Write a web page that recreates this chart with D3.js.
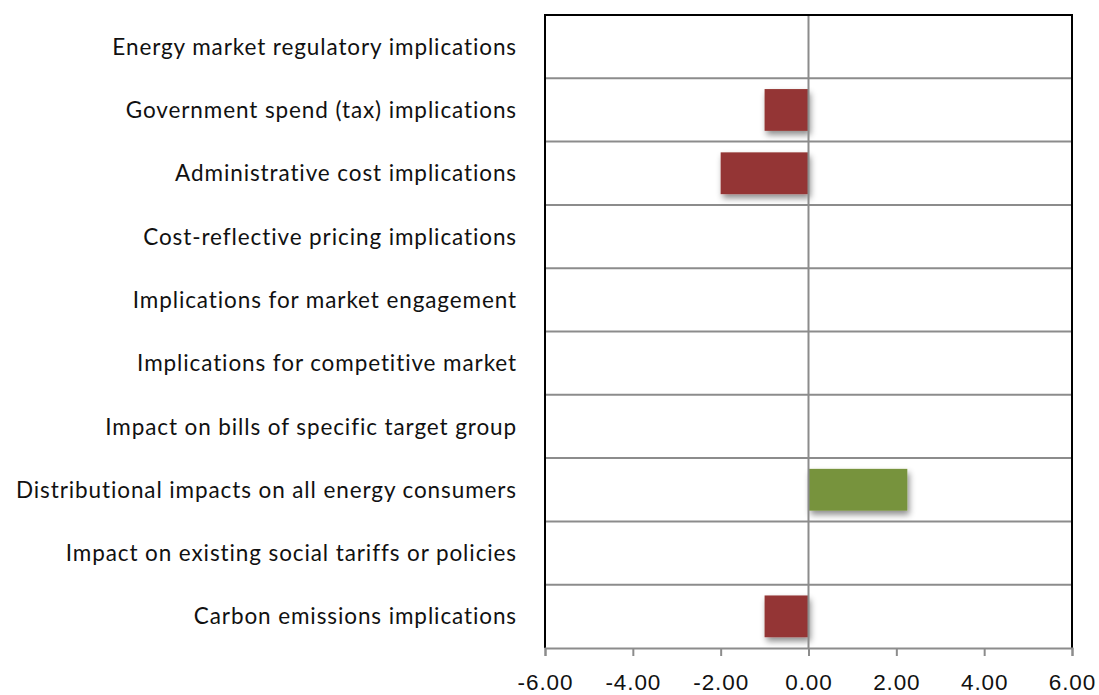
<!DOCTYPE html>
<html lang="en">
<head>
  <meta charset="UTF-8">
  <title>Implications chart (D3.js)</title>
  <script src="https://d3js.org/d3.v7.min.js"></script>
  <style>
    body {
      background-color: #fff;
      margin: 0;
      font-family: 'Lato', 'Open Sans', Arial, sans-serif;
    }
    svg {
      display: block;
    }
    .cat-label, .tick-label {
      fill: #111;
      font-size: 22.5px;
      letter-spacing: 0.9px;
      font-variant-ligatures: none;
    }
    .grid {
      stroke: #8c8c8c;
      stroke-width: 2;
    }
  </style>
</head>
<body>
<svg id="chart" width="1099" height="695"></svg>

<script>
const categories = [
  "Energy market regulatory implications",
  "Government spend (tax) implications",
  "Administrative cost implications",
  "Cost-reflective pricing implications",
  "Implications for market engagement",
  "Implications for competitive market",
  "Impact on bills of specific target group",
  "Distributional impacts on all energy consumers",
  "Impact on existing social tariffs or policies",
  "Carbon emissions implications"
];
const values = [0, -1, -2, 0, 0, 0, 0, 2.25, 0, -1];
const xTicks = [-6, -4, -2, 0, 2, 4, 6];

const margin = {top: 15, right: 27, bottom: 47, left: 545};

const svg = d3.select("#chart"),
      width = +svg.attr("width") - margin.left - margin.right,
      height = +svg.attr("height") - margin.top - margin.bottom;

// soft drop shadow under the bars
const defs = svg.append("defs");
defs.append("filter")
    .attr("id", "shadow")
    .attr("x", "-20%").attr("y", "-20%")
    .attr("width", "150%").attr("height", "160%")
  .append("feDropShadow")
    .attr("dx", 2).attr("dy", 4)
    .attr("stdDeviation", 3)
    .attr("flood-color", "#000")
    .attr("flood-opacity", 0.45);

const g = svg.append("g").attr("transform", `translate(${margin.left},${margin.top})`);

const x = d3.scaleLinear().domain([-6, 6]).range([0, width]);
const rows = d3.scaleBand().domain(categories).range([0, height]);
const bars = d3.scaleBand().domain(categories).range([0, height]).paddingInner(0.34).paddingOuter(0.17);

// horizontal row separators
g.selectAll(".row-line")
  .data(categories.slice(1))
  .join("line")
    .attr("class", "grid")
    .attr("x1", 0).attr("x2", width)
    .attr("y1", d => rows(d)).attr("y2", d => rows(d));

// bars
g.selectAll(".bar")
  .data(categories.filter((c, i) => values[i] !== 0))
  .join("rect")
    .attr("class", "bar")
    .attr("x", d => x(Math.min(0, values[categories.indexOf(d)])))
    .attr("width", d => Math.abs(x(values[categories.indexOf(d)]) - x(0)))
    .attr("y", d => bars(d))
    .attr("height", bars.bandwidth())
    .attr("fill", d => values[categories.indexOf(d)] < 0 ? "#943634" : "#77933c")
    .attr("filter", "url(#shadow)");

// zero line
g.append("line")
  .attr("class", "grid")
  .attr("x1", x(0)).attr("x2", x(0))
  .attr("y1", 0).attr("y2", height);

// frame: black left, top, right
g.append("path")
  .attr("d", `M0,${height}V0H${width}V${height}`)
  .attr("fill", "none")
  .attr("stroke", "#000")
  .attr("stroke-width", 2);

// x axis (plain hyphen for negatives, like the original)
const fmt = d => d3.format(".2f")(d).replace("\u2212", "-");
const xAxis = g.append("g")
  .attr("transform", `translate(0,${height})`)
  .call(d3.axisBottom(x).tickValues(xTicks).tickFormat(fmt).tickSize(8));
xAxis.select(".domain").attr("stroke", "#8c8c8c").attr("stroke-width", 2);
xAxis.selectAll(".tick line").attr("stroke", "#8c8c8c").attr("stroke-width", 2);
xAxis.selectAll(".tick text")
  .attr("class", "tick-label")
  .attr("font-family", null)
  .attr("font-size", null)
  .attr("fill", null)
  .attr("y", 26)
  .attr("dy", "0.71em");

// category labels
g.selectAll(".cat-label")
  .data(categories)
  .join("text")
    .attr("class", "cat-label")
    .attr("x", -28)
    .attr("y", d => rows(d) + rows.bandwidth() / 2)
    .attr("dy", "0.36em")
    .attr("text-anchor", "end")
    .text(d => d);
</script>
</body>
</html>
